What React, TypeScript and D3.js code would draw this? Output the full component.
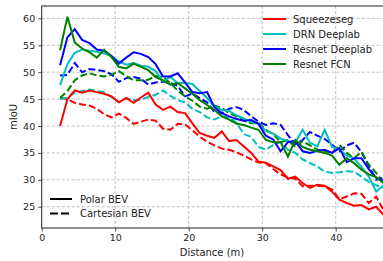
import React, { useEffect, useRef } from 'react';
import * as d3 from 'd3';

// distance bins (m)
const distances = d3.range(2.5, 47, 1);

// polar BEV (solid)
const squeezePolar = [40, 45, 46.6, 46.2, 46.6, 46.3, 46, 45.5, 44.4, 45.2, 44.3, 45.3, 46.2, 44, 43, 43.6, 42.6, 42.4, 40.5, 38.7, 38.2, 37.8, 39, 37.2, 37.4, 36.2, 35, 33.4, 33.2, 32.5, 31.8, 30.2, 30.6, 29.4, 28.5, 29.1, 28.9, 27.8, 26.3, 25.7, 25.2, 25.3, 24.5, 25, 23.5];
const drnPolar = [47.6, 51.5, 53.6, 54.2, 54, 53.8, 53.5, 53, 52, 51.4, 51.7, 51.2, 51, 50.2, 48.2, 49.1, 48, 48, 47.8, 46.5, 45.2, 43.6, 43, 42.8, 42, 41.4, 40.8, 40.4, 39.1, 38.6, 37.7, 37.2, 37, 39.3, 36.9, 36.2, 39.3, 36.1, 35.6, 34.5, 34, 32.4, 30.6, 27.8, 29];
const resDeeplabPolar = [51.3, 56.5, 58, 56, 55.4, 54.2, 54, 53, 51.6, 52.7, 53.7, 53.4, 52.8, 51.5, 49.2, 49.2, 49.8, 48.1, 46.3, 46.1, 46.3, 43.5, 42.4, 41.8, 41.3, 41, 41.1, 40.4, 38.2, 37.5, 35.3, 37, 37.2, 35.3, 35, 35.4, 35.6, 35, 35.9, 33.3, 34, 34, 32, 30.4, 29.8];
const resFcnPolar = [54.1, 60.3, 55.5, 54.4, 53.7, 52.7, 54.2, 52.8, 51, 50.7, 51.6, 51, 50.4, 49.1, 48.5, 47.7, 48, 47, 46, 44.8, 43.9, 43, 41.8, 41.2, 40.4, 40.2, 39.7, 39.3, 37.4, 37, 37, 34.3, 37.4, 36.1, 35.6, 35.3, 35, 34.5, 32.8, 34, 33.1, 31.9, 31, 30.5, 29.4];

// cartesian BEV (dashed)
const squeezeCart = [45.2, 45, 44.3, 44, 43.8, 43.2, 42.2, 41.6, 42.3, 41.5, 40.4, 40.8, 41.2, 41, 39.5, 39.3, 40.4, 40.3, 39.2, 38, 37.1, 36.4, 35.8, 35.6, 35.1, 34.5, 33.8, 33.2, 33.1, 32, 31, 30.5, 30.2, 28.8, 28.9, 28.9, 28.8, 28.2, 26.4, 26.9, 27.5, 27.4, 25.7, 26.9, 24.4];
const drnCart = [45, 45.3, 46.2, 46.5, 46.8, 46.5, 46.3, 45.4, 44.4, 45.2, 44.8, 44.9, 45.4, 45.8, 46.6, 45.6, 44.8, 44.4, 43.2, 42.6, 41.6, 41.2, 41.8, 41.6, 40.6, 38.5, 38, 36.1, 35.6, 36.5, 37, 35.6, 35, 33.8, 33.1, 32.5, 31.5, 31.3, 31.4, 31.6, 31.5, 30.6, 29.6, 29, 28.5];
const resDeeplabCart = [49.4, 49.5, 51.7, 50, 50.6, 50.4, 50.2, 49.6, 48.2, 48.9, 49.1, 48.8, 47.7, 48.1, 48.2, 48, 47.5, 45.5, 46, 45.2, 44.4, 42.6, 42.4, 43.2, 43.5, 43, 41.8, 40.8, 40.2, 40.5, 40.2, 38.3, 36.6, 37.4, 38.9, 38.2, 37.6, 36.5, 35.3, 36.4, 36.9, 35.2, 32.5, 30, 30.4];
const resFcnCart = [45.2, 46.5, 48.5, 49.4, 49.8, 49.4, 49.2, 49.5, 50.2, 49.3, 48.5, 48.5, 48.6, 49.3, 49.1, 48, 46.6, 45.5, 44.7, 43.6, 43.2, 43.8, 43.4, 42.4, 41.8, 41, 40.5, 40.6, 39.3, 38.5, 37, 37.4, 36.1, 37.2, 36.4, 35.6, 35.3, 35, 36.5, 35, 34, 35.2, 32.8, 31.3, 29.5];

const modelNames = ['Squeezeseg', 'DRN Deeplab', 'Resnet Deeplab', 'Resnet FCN'];
const modelColors = ['#ff0000', '#00bfbf', '#0000ff', '#008000'];
const polarSeries = [squeezePolar, drnPolar, resDeeplabPolar, resFcnPolar];
const cartSeries = [squeezeCart, drnCart, resDeeplabCart, resFcnCart];
const styleNames = ['Polar BEV', 'Cartesian BEV'];

const xTicks = [0, 10, 20, 30, 40];
const yTicks = [25, 30, 35, 40, 45, 50, 55, 60];

const W = 383, H = 261;

export default function App() {
  const ref = useRef<SVGSVGElement>(null);

  useEffect(() => {
    const svg = d3.select(ref.current);
    svg.selectAll('*').remove();

    // right edge of the axes sits just outside the picture
    const left = 41.7, right = 384, top = 6, bottom = 228;
    const x = d3.scaleLinear().domain([0, 46.57]).range([left, right]);
    const y = d3.scaleLinear().domain([21.05, 62.3]).range([bottom, top]);
    const font = 'DejaVu Sans, sans-serif';

    svg.append('rect').attr('width', W).attr('height', H).attr('fill', '#fff');

    // grid
    const grid = svg.append('g').attr('stroke', '#b0b0b0').attr('stroke-width', 0.8).attr('stroke-dasharray', '3,2');
    xTicks.slice(1).forEach(t => grid.append('line').attr('x1', x(t)).attr('x2', x(t)).attr('y1', top).attr('y2', bottom));
    yTicks.forEach(t => grid.append('line').attr('x1', left).attr('x2', right).attr('y1', y(t)).attr('y2', y(t)));

    svg.append('clipPath').attr('id', 'plotclip')
      .append('rect').attr('x', left).attr('y', top).attr('width', right - left).attr('height', bottom - top);

    const line = d3.line<number>().x((_, i) => x(distances[i])).y(d => y(d));
    const plot = svg.append('g').attr('clip-path', 'url(#plotclip)');
    cartSeries.forEach((s, i) => {
      plot.append('path').attr('d', line(s)).attr('fill', 'none')
        .attr('stroke', modelColors[i]).attr('stroke-width', 2).attr('stroke-dasharray', '7,3');
    });
    polarSeries.forEach((s, i) => {
      plot.append('path').attr('d', line(s)).attr('fill', 'none')
        .attr('stroke', modelColors[i]).attr('stroke-width', 2);
    });

    // axes
    const xAxis = svg.append('g').attr('transform', `translate(0,${bottom})`)
      .call(d3.axisBottom(x).tickValues(xTicks).tickSize(3.5).tickPadding(3).tickFormat(d3.format('d')));
    const yAxis = svg.append('g').attr('transform', `translate(${left},0)`)
      .call(d3.axisLeft(y).tickValues(yTicks).tickSize(3.5).tickPadding(3).tickFormat(d3.format('d')));
    [xAxis, yAxis].forEach(a => {
      a.select('.domain').remove();
      a.selectAll('text').attr('font-family', font).attr('font-size', 9.5).attr('fill', '#222');
      a.selectAll('line').attr('stroke', '#222').attr('stroke-width', 0.8);
    });
    svg.append('rect').attr('x', left).attr('y', top).attr('width', right - left).attr('height', bottom - top)
      .attr('fill', 'none').attr('stroke', '#222').attr('stroke-width', 1);

    svg.append('text').attr('x', 212).attr('y', 256).attr('text-anchor', 'middle')
      .attr('font-family', font).attr('font-size', 10).attr('fill', '#222').text('Distance (m)');
    svg.append('text').attr('transform', `translate(17,${(top + bottom) / 2}) rotate(-90)`).attr('text-anchor', 'middle')
      .attr('font-family', font).attr('font-size', 10).attr('fill', '#222').text('mIoU');

    // model legend
    modelNames.forEach((name, i) => {
      const ly = 19 + i * 15;
      svg.append('line').attr('x1', 263).attr('x2', 286).attr('y1', ly).attr('y2', ly)
        .attr('stroke', modelColors[i]).attr('stroke-width', 2);
      svg.append('text').attr('x', 293).attr('y', ly + 3.5).attr('font-family', font).attr('font-size', 10)
        .attr('fill', '#222').text(name);
    });

    // style legend
    styleNames.forEach((name, i) => {
      const ly = 199 + i * 14.5;
      svg.append('line').attr('x1', 50).attr('x2', 72).attr('y1', ly).attr('y2', ly)
        .attr('stroke', '#000').attr('stroke-width', 2).attr('stroke-dasharray', i === 1 ? '8,3' : null);
      svg.append('text').attr('x', 80).attr('y', ly + 3.5).attr('font-family', font).attr('font-size', 10)
        .attr('fill', '#222').text(name);
    });
  }, []);

  return (
    <div style={{ position: 'absolute', left: 0, top: 0 }}>
      <svg ref={ref} width={W} height={H} style={{ display: 'block' }} />
    </div>
  );
}
